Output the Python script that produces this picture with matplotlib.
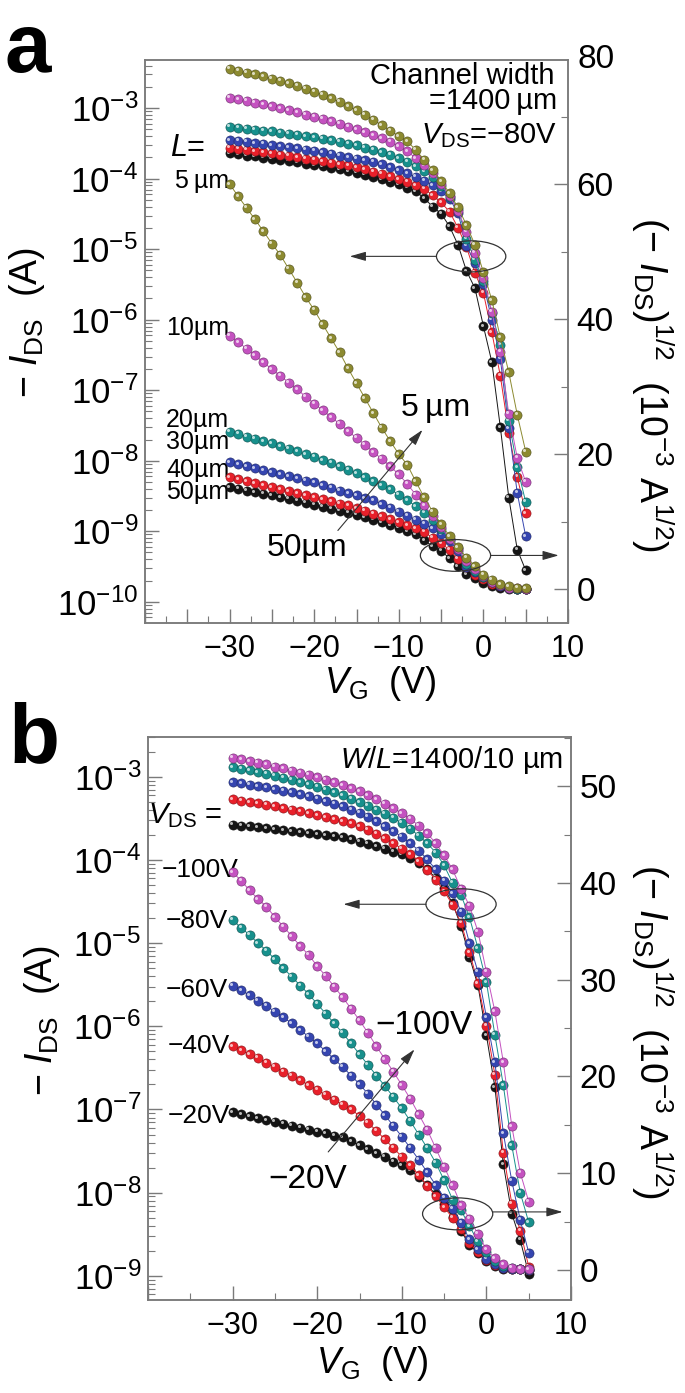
import numpy as np
import matplotlib
matplotlib.use("Agg")
import matplotlib.pyplot as plt
from matplotlib.patches import Ellipse
from matplotlib.transforms import offset_copy
from matplotlib.ticker import (LogLocator, MultipleLocator, FuncFormatter,
                               NullFormatter, LogFormatterMathtext)
from matplotlib.colors import to_rgb

plt.rcParams["font.family"] = ["Liberation Sans", "DejaVu Sans"]
plt.rcParams["mathtext.fontset"] = "custom"
plt.rcParams["mathtext.rm"] = "Liberation Sans"
plt.rcParams["mathtext.it"] = "Liberation Sans:italic"
plt.rcParams["mathtext.bf"] = "Liberation Sans:bold"

# gate voltage sweep (V)
vg = [-30, -29, -28, -27, -26, -25, -24, -23, -22, -21,
      -20, -19, -18, -17, -16, -15, -14, -13, -12, -11,
      -10, -9, -8, -7, -6, -5, -4, -3, -2, -1,
      0, 1, 2, 3, 4, 5]

# panel a: -I_DS (A) for channel lengths, V_DS = -80 V
ids_5um = [3.60e-3, 3.39e-3, 3.19e-3, 3.00e-3, 2.81e-3, 2.62e-3, 2.45e-3, 2.25e-3, 2.06e-3, 1.87e-3,
           1.71e-3, 1.54e-3, 1.38e-3, 1.23e-3, 1.07e-3, 9.3e-4, 8.0e-4, 6.8e-4, 5.7e-4, 4.8e-4,
           4.0e-4, 3.4e-4, 2.55e-4, 1.85e-4, 1.32e-4, 9.2e-5, 6.2e-5, 3.9e-5, 2.2e-5, 1.15e-5,
           4.7e-6, 1.9e-6, 5.6e-7, 1.8e-7, 4.5e-8, 1.35e-8]
ids_10um = [1.41e-3, 1.34e-3, 1.27e-3, 1.20e-3, 1.13e-3, 1.06e-3, 1.00e-3, 9.36e-4, 8.76e-4, 8.12e-4,
            7.56e-4, 7.02e-4, 6.50e-4, 6.00e-4, 5.48e-4, 5.02e-4, 4.58e-4, 4.12e-4, 3.72e-4, 3.31e-4,
            2.89e-4, 2.43e-4, 1.96e-4, 1.54e-4, 1.19e-4, 8.5e-5, 5.6e-5, 3.5e-5, 1.78e-5, 8.9e-6,
            3.9e-6, 1.29e-6, 3.5e-7, 4.6e-8, 1.1e-8, 5.0e-9]
ids_20um = [5.43e-4, 5.29e-4, 5.11e-4, 4.97e-4, 4.80e-4, 4.67e-4, 4.49e-4, 4.33e-4, 4.16e-4, 4.00e-4,
            3.84e-4, 3.65e-4, 3.50e-4, 3.31e-4, 3.13e-4, 2.96e-4, 2.76e-4, 2.56e-4, 2.37e-4, 2.19e-4,
            1.96e-4, 1.74e-4, 1.51e-4, 1.28e-4, 1.04e-4, 7.9e-5, 5.5e-5, 3.7e-5, 1.41e-5, 7.1e-6,
            3.5e-6, 1.26e-6, 4.4e-7, 3.7e-8, 8.1e-9, 2.6e-9]
ids_30um = [3.53e-4, 3.42e-4, 3.31e-4, 3.20e-4, 3.10e-4, 2.99e-4, 2.89e-4, 2.79e-4, 2.69e-4, 2.59e-4,
            2.50e-4, 2.37e-4, 2.25e-4, 2.13e-4, 2.02e-4, 1.93e-4, 1.82e-4, 1.74e-4, 1.59e-4, 1.46e-4,
            1.32e-4, 1.19e-4, 1.06e-4, 9.4e-5, 8.1e-5, 6.6e-5, 5.2e-5, 3.25e-5, 1.12e-5, 6.3e-6,
            3.2e-6, 1.0e-6, 2.8e-7, 2.9e-8, 3.5e-9, 8.5e-10]
ids_40um = [2.76e-4, 2.66e-4, 2.56e-4, 2.46e-4, 2.37e-4, 2.28e-4, 2.19e-4, 2.10e-4, 2.02e-4, 1.93e-4,
            1.85e-4, 1.77e-4, 1.69e-4, 1.61e-4, 1.54e-4, 1.44e-4, 1.35e-4, 1.25e-4, 1.17e-4, 1.08e-4,
            9.8e-5, 9.0e-5, 8.1e-5, 7.2e-5, 5.8e-5, 4.6e-5, 3.4e-5, 2.0e-5, 1.07e-5, 4.6e-6,
            2.4e-6, 6.6e-7, 1.6e-7, 2.5e-8, 5.9e-9, 1.8e-9]
ids_50um = [2.28e-4, 2.22e-4, 2.13e-4, 2.07e-4, 1.99e-4, 1.93e-4, 1.85e-4, 1.80e-4, 1.72e-4, 1.64e-4,
            1.56e-4, 1.49e-4, 1.42e-4, 1.35e-4, 1.28e-4, 1.21e-4, 1.14e-4, 1.06e-4, 9.8e-5, 9.0e-5,
            8.3e-5, 7.4e-5, 6.6e-5, 5.3e-5, 4.0e-5, 3.2e-5, 2.1e-5, 1.15e-5, 4.9e-6, 2.8e-6,
            8.1e-7, 2.5e-7, 3.0e-8, 3.0e-9, 5.5e-10, 2.8e-10]

# panel b: -I_DS (A) for drain voltages, W/L = 1400/10 um
ids_100v = [1.69e-3, 1.62e-3, 1.54e-3, 1.47e-3, 1.41e-3, 1.33e-3, 1.26e-3, 1.19e-3, 1.12e-3, 1.06e-3,
            9.86e-4, 9.24e-4, 8.58e-4, 7.95e-4, 7.29e-4, 6.66e-4, 6.00e-4, 5.34e-4, 4.75e-4, 4.20e-4,
            3.65e-4, 3.13e-4, 2.59e-4, 2.10e-4, 1.59e-4, 1.14e-4, 7.7e-5, 4.5e-5, 2.8e-5, 1.38e-5,
            4.5e-6, 1.51e-6, 3.7e-7, 6.3e-8, 1.74e-8, 7.8e-9]
ids_80v = [1.31e-3, 1.25e-3, 1.20e-3, 1.14e-3, 1.09e-3, 1.03e-3, 9.73e-4, 9.18e-4, 8.64e-4, 8.12e-4,
           7.56e-4, 7.02e-4, 6.50e-4, 6.00e-4, 5.48e-4, 4.97e-4, 4.49e-4, 4.04e-4, 3.61e-4, 3.20e-4,
           2.79e-4, 2.37e-4, 1.96e-4, 1.59e-4, 1.23e-4, 8.6e-5, 5.3e-5, 3.8e-5, 2.04e-5, 8.7e-6,
           3.4e-6, 7.9e-7, 1.95e-7, 3.7e-8, 1.0e-8, 4.4e-9]
ids_60v = [8.64e-4, 8.35e-4, 8.07e-4, 7.73e-4, 7.45e-4, 7.13e-4, 6.81e-4, 6.50e-4, 6.15e-4, 5.81e-4,
           5.48e-4, 5.11e-4, 4.75e-4, 4.41e-4, 4.04e-4, 3.69e-4, 3.31e-4, 2.92e-4, 2.56e-4, 2.22e-4,
           1.90e-4, 1.59e-4, 1.30e-4, 1.02e-4, 7.7e-5, 5.6e-5, 4.0e-5, 2.4e-5, 1.0e-5, 4.5e-6,
           1.29e-6, 3.7e-7, 5.2e-8, 1.38e-8, 4.7e-9, 1.9e-9]
ids_40v = [5.34e-4, 5.15e-4, 4.97e-4, 4.80e-4, 4.58e-4, 4.41e-4, 4.20e-4, 4.04e-4, 3.84e-4, 3.65e-4,
           3.46e-4, 3.28e-4, 3.10e-4, 2.92e-4, 2.76e-4, 2.53e-4, 2.31e-4, 2.07e-4, 1.82e-4, 1.59e-4,
           1.37e-4, 1.17e-4, 9.6e-5, 7.6e-5, 5.8e-5, 4.2e-5, 2.9e-5, 1.76e-5, 7.8e-6, 3.3e-6,
           1.02e-6, 2.6e-7, 3.0e-8, 7.4e-9, 3.5e-9, 1.29e-9]
ids_20v = [2.66e-4, 2.59e-4, 2.53e-4, 2.46e-4, 2.40e-4, 2.34e-4, 2.28e-4, 2.22e-4, 2.16e-4, 2.10e-4,
           2.04e-4, 1.99e-4, 1.93e-4, 1.88e-4, 1.77e-4, 1.66e-4, 1.56e-4, 1.46e-4, 1.37e-4, 1.25e-4,
           1.17e-4, 1.06e-4, 9.2e-5, 7.7e-5, 6.1e-5, 4.6e-5, 3.0e-5, 1.6e-5, 6.8e-6, 3.1e-6,
           7.8e-7, 1.86e-7, 2.2e-8, 5.6e-9, 2.7e-9, 1.05e-9]

len_labels = ["5\u2009µm", "10µm", "20µm", "30µm", "40µm", "50µm"]
vds_labels = ["\u2212100V", "\u221280V", "\u221260V", "\u221240V", "\u221220V"]

olive, magenta, teal, blue, red, black = "#8c8a30", "#c452c0", "#17908c", "#3545b0", "#e8202a", "#151515"
GRAY = "#7a7a7a"

# drawing order: bottom series first
series_a = [(ids_50um, black), (ids_40um, red), (ids_30um, blue),
            (ids_20um, teal), (ids_10um, magenta), (ids_5um, olive)]
series_b = [(ids_20v, black), (ids_40v, red), (ids_60v, blue),
            (ids_80v, teal), (ids_100v, magenta)]

fig = plt.figure(figsize=(6.85, 13.93), dpi=100)


def shade(c, f):
    r = np.array(to_rgb(c))
    return tuple(r + (1 - r) * f) if f > 0 else tuple(r * (1 + f))


def balls(ax, x, y, color):
    ax.plot(x, y, "-", color=color, lw=0.7)
    ax.plot(x, y, "o", ms=6.6, mfc=color, mec=shade(color, -0.45), mew=0.4)
    hl = offset_copy(ax.transData, fig=fig, x=-1.1, y=1.1, units="points")
    ax.plot(x, y, "o", ms=2.2, mfc=shade(color, 0.7), mec="none", transform=hl)


def xfmt(v, pos):
    # labels every 10 V, the left end (-40) is left blank
    if abs(v) % 10 < 1e-6 and v > -35:
        return f"{v:.0f}".replace("-", "\u2212")
    return ""


def setup(ax, ax2, ylog, yright, rmaj, rmin, xmaj, xmin):
    ax.set_xlim(-40, 10)
    ax.set_yscale("log")
    ax.set_ylim(10 ** ylog[0], 10 ** ylog[1])
    ax2.set_ylim(*yright)
    ax.yaxis.set_major_locator(LogLocator(base=10, numticks=30))
    ax.yaxis.set_minor_locator(LogLocator(base=10, subs=np.arange(2, 10), numticks=30))
    ax.yaxis.set_major_formatter(LogFormatterMathtext())
    ax.yaxis.set_minor_formatter(NullFormatter())
    ax.xaxis.set_major_locator(MultipleLocator(xmaj))
    ax.xaxis.set_minor_locator(MultipleLocator(xmin))
    ax.xaxis.set_major_formatter(FuncFormatter(xfmt))
    ax2.yaxis.set_major_locator(MultipleLocator(rmaj))
    ax2.yaxis.set_minor_locator(MultipleLocator(rmin))
    for a in (ax, ax2):
        for s in a.spines.values():
            s.set_color(GRAY)
            s.set_linewidth(1.1)
    ax.tick_params(axis="y", which="major", direction="in", length=10, width=1,
                   color=GRAY, labelsize=25, pad=5, right=False)
    ax.tick_params(axis="y", which="minor", direction="in", length=5, width=0.8,
                   color=GRAY, right=False)
    ax.tick_params(axis="x", which="major", direction="in", length=10, width=1,
                   color=GRAY, labelsize=22, pad=8, top=False)
    ax.tick_params(axis="x", which="minor", direction="in", length=5, width=0.8,
                   color=GRAY, top=False)
    ax2.tick_params(axis="y", which="major", direction="in", length=10, width=1,
                    color=GRAY, labelsize=24, pad=6)
    ax2.tick_params(axis="y", which="minor", direction="in", length=5, width=0.8,
                    color=GRAY)


def arrow(ax, start, end):
    ax.annotate("", xy=end, xytext=start,
                arrowprops=dict(arrowstyle="-|>,head_length=0.7,head_width=0.2",
                                color="#333333", lw=0.8, mutation_scale=14,
                                shrinkA=0, shrinkB=0), zorder=10)


def ellipse(ax, c, w, h):
    ax.add_patch(Ellipse(c, w, h, fill=False, ec="#333333", lw=0.9, zorder=10))


# ---------------- panel a ----------------
ax = fig.add_axes([0.2117, 0.5528, 0.6175, 0.4042])
ax2 = ax.twinx()
setup(ax, ax2, (-10.3, -2.316), (-5.0, 78.4), 20, 10, 5, 2.5)
for ids, col in series_a:
    balls(ax, vg, ids, col)
for ids, col in series_a:
    balls(ax2, vg, np.sqrt(ids) * 1e3, col)
ax2.text(1.0 + 9 / 423, 1.0, "80", transform=ax2.transAxes, ha="left", va="center", fontsize=24)

ellipse(ax2, (-1.45, 49.3), 8.2, 4.6)
arrow(ax2, (-5.55, 49.3), (-15.8, 49.3))
ellipse(ax2, (-3.3, 5.0), 8.3, 4.7)
arrow(ax2, (0.85, 5.0), (8.9, 5.0))
arrow(ax2, (-17.2, 8.7), (-7.2, 23.6))
ax2.text(-5.7, 26.8, "5\u2009µm", ha="center", va="center", fontsize=23)
ax2.text(-20.9, 6.1, "50µm", ha="center", va="center", fontsize=23)

ax.text(0.142, 0.844, "$L$=", transform=ax.transAxes, ha="right", va="center", fontsize=22)
for lab, yy in zip(len_labels, [0.785, 0.524, 0.361, 0.322, 0.271, 0.233]):
    ax.text(0.199, yy, lab, transform=ax.transAxes, ha="right", va="center", fontsize=18)
ax.text(0.967, 0.972, "Channel width", transform=ax.transAxes, ha="right", va="center", fontsize=21)
ax.text(0.975, 0.927, "=1400\u2009µm", transform=ax.transAxes, ha="right", va="center", fontsize=21)
ax.text(0.975, 0.866, "$V_{\\rm DS}$=\u221280V", transform=ax.transAxes, ha="right", va="center", fontsize=21)

ax.text(-0.28, 0.533, "$-\\ I_{\\rm DS}$  (A)", transform=ax.transAxes, rotation=90,
        ha="center", va="center", fontsize=27)
ax.text(0.556, -0.107, "$V_{\\rm G}$  (V)", transform=ax.transAxes,
        ha="center", va="center", fontsize=26)
ax2.text(1.199, 0.424, "$(-\\ I_{\\rm DS})^{1/2}$  $(10^{-3}$ A$^{1/2})$", transform=ax2.transAxes,
         rotation=270, ha="center", va="center", fontsize=27)
fig.text(0.007, 0.948, "a", fontsize=60, fontweight="bold", va="baseline")

# ---------------- panel b ----------------
bx = fig.add_axes([0.2161, 0.0668, 0.6175, 0.4042])
bx2 = bx.twinx()
setup(bx, bx2, (-9.29, -2.52), (-3.1, 55.1), 10, 5, 10, 5)
for ids, col in series_b:
    balls(bx, vg, ids, col)
for ids, col in series_b:
    balls(bx2, vg, np.sqrt(ids) * 1e3, col)

ellipse(bx2, (-3.0, 37.8), 8.3, 3.2)
arrow(bx2, (-7.15, 37.8), (-16.9, 37.8))
ellipse(bx2, (-3.4, 5.8), 8.3, 3.3)
arrow(bx2, (0.75, 6.0), (9.0, 6.0))
arrow(bx2, (-18.7, 12.2), (-8.5, 22.8))
bx2.text(-7.4, 25.3, "\u2212100V", ha="center", va="center", fontsize=24)
bx2.text(-21.1, 9.4, "\u221220V", ha="center", va="center", fontsize=24)

bx.text(0.981, 0.959, "$W$/$L$=1400/10 µm", transform=bx.transAxes, ha="right", va="center", fontsize=21)
bx.text(0.175, 0.861, "$V_{\\rm DS}$ =", transform=bx.transAxes, ha="right", va="center", fontsize=21)
for lab, xx, yy in zip(vds_labels, [0.213, 0.189, 0.189, 0.194, 0.194],
                       [0.764, 0.673, 0.551, 0.451, 0.327]):
    bx.text(xx, yy, lab, transform=bx.transAxes, ha="right", va="center", fontsize=19)

bx.text(-0.25, 0.497, "$-\\ I_{\\rm DS}$  (A)", transform=bx.transAxes, rotation=90,
        ha="center", va="center", fontsize=27)
bx.text(0.53, -0.112, "$V_{\\rm G}$  (V)", transform=bx.transAxes,
        ha="center", va="center", fontsize=26)
bx2.text(1.191, 0.476, "$(-\\ I_{\\rm DS})^{1/2}$  $(10^{-3}$ A$^{1/2})$", transform=bx2.transAxes,
         rotation=270, ha="center", va="center", fontsize=27)
fig.text(0.012, 0.453, "b", fontsize=60, fontweight="bold", va="baseline")

fig.savefig("out.png", dpi=100)
